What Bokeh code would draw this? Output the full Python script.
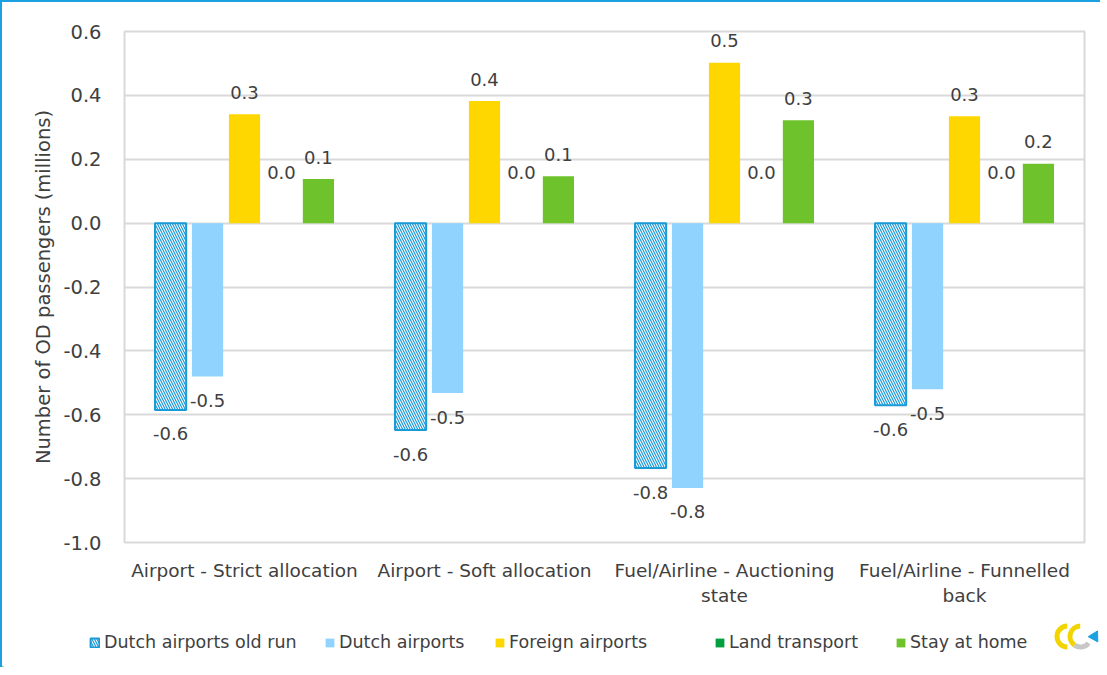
from bokeh.plotting import figure
from bokeh.layouts import column
from bokeh.models import (ColumnDataSource, LabelSet, Legend, LegendItem,
                          FixedTicker, Range1d)
from bokeh.core.properties import value
from bokeh.embed import file_html
from bokeh.resources import INLINE

# ---- data ----
categories = ["Airport - Strict allocation", "Airport - Soft allocation",
              "Fuel/Airline - Auctioning\nstate", "Fuel/Airline - Funnelled\nback"]
series = ["Dutch airports old run", "Dutch airports", "Foreign airports",
          "Land transport", "Stay at home"]
dutch_old = [-0.585, -0.648, -0.767, -0.570]
dutch = [-0.480, -0.532, -0.829, -0.520]
foreign = [0.341, 0.382, 0.502, 0.335]
land = [0.0, 0.0, 0.0, 0.0]
stay = [0.138, 0.147, 0.322, 0.186]
y_ticks = [-1.0, -0.8, -0.6, -0.4, -0.2, 0.0, 0.2, 0.4, 0.6]

values = [dutch_old, dutch, foreign, land, stay]
colors = ["#ffffff", "#8fd3fe", "#ffd700", "#00a03e", "#6ec22c"]
legend_x = [87, 322, 492, 712, 893]   # legend entry positions (px)

FONT = "DejaVu Sans"
TXT = "#404040"
W = 122 + 960 + 16

p = figure(frame_width=960, frame_height=511, output_backend="svg",
           toolbar_location=None,
           x_range=Range1d(0, 4), y_range=Range1d(-1.0, 0.6),
           min_border_left=122, min_border_right=16, min_border_top=29,
           min_border_bottom=75, background_fill_color="white",
           border_fill_color="white")
p.frame_align = False

p.outline_line_color = "#d9d9d9"
p.outline_line_width = 2
p.xgrid.grid_line_color = None
p.ygrid.grid_line_color = "#d9d9d9"
p.ygrid.grid_line_width = 2
p.yaxis.ticker = FixedTicker(ticks=y_ticks)
p.yaxis.major_label_overrides = {t: f"{t:.1f}" for t in y_ticks}
p.xaxis.ticker = FixedTicker(ticks=[0.5, 1.5, 2.5, 3.5])
p.xaxis.major_label_overrides = {0.5 + i: c for i, c in enumerate(categories)}
for ax in (p.xaxis, p.yaxis):
    ax.axis_line_color = None
    ax.major_tick_line_color = None
    ax.minor_tick_line_color = None
    ax.major_label_text_font = FONT
    ax.major_label_text_color = TXT
p.xaxis.major_label_text_font_size = "18.5px"
p.yaxis.major_label_text_font_size = "19.5px"
p.yaxis.major_label_standoff = 17
p.xaxis.major_label_standoff = 11
p.yaxis.axis_label = "Number of OD passengers (millions)"
p.yaxis.axis_label_text_font = FONT
p.yaxis.axis_label_text_font_size = "19.5px"
p.yaxis.axis_label_text_font_style = "normal"
p.yaxis.axis_label_text_color = TXT
p.yaxis.axis_label_standoff = 5

# legend strip (separate small figure, pixel data units)
p2 = figure(width=W, height=50, output_backend="svg", toolbar_location=None,
            x_range=Range1d(0, W), y_range=Range1d(0, 50),
            min_border_left=0, min_border_right=0, min_border_top=0,
            min_border_bottom=0, background_fill_color="white",
            border_fill_color="white")
p2.frame_align = False
p2.axis.visible = False
p2.grid.grid_line_color = None
p2.outline_line_color = None

offsets = [-0.308, -0.154, 0.0, 0.154, 0.308]
bar_w = 0.13
for s, (name, vals, col, off) in enumerate(zip(series, values, colors, offsets)):
    xs = [i + 0.5 + off for i in range(len(categories))]
    lab_off = [22 if v > 0 else (-24 if v < 0 else 51) for v in vals]
    src = ColumnDataSource(dict(x=xs, top=vals, lab=[f"{v:.1f}" for v in vals],
                                yo=lab_off))
    if s == 0:
        style = dict(fill_color="white", line_color="#1a9ad6", line_width=2,
                     hatch_pattern="\\", hatch_color="#1a9ad6", hatch_scale=5,
                     hatch_weight=1.2)
    else:
        style = dict(fill_color=col, line_color=None)
    p.vbar(x="x", top="top", bottom=0, width=bar_w, source=src, **style)
    # off-canvas proxy bar so the legend can show the swatch
    r2 = p2.vbar(x=[-500], top=[1], bottom=0, width=1, **style)
    leg = Legend(items=[LegendItem(label=name, renderers=[r2])],
                 orientation="horizontal", location=(legend_x[s], 15),
                 label_text_font=FONT, label_text_font_size="17.5px",
                 label_text_color=TXT, glyph_width=11, glyph_height=11,
                 label_standoff=4, border_line_color=None,
                 background_fill_alpha=0, margin=0, padding=0)
    p2.add_layout(leg, "center")
    p.add_layout(LabelSet(x="x", y="top", text="lab", y_offset="yo", source=src,
                          text_align="center", text_baseline="middle",
                          text_font=value(FONT), text_font_size="18px",
                          text_color=TXT))

# small logo approximation
p2.annular_wedge(x=[1065, 1078], y=[31, 31], inner_radius=8, outer_radius=13,
                 start_angle=[1.6, 1.6], end_angle=[4.7, 4.1],
                 color="#f2d500", line_color=None)
p2.annular_wedge(x=[1078], y=[31], inner_radius=8, outer_radius=13,
                 start_angle=[4.1], end_angle=[5.6], color="#c8c8c8",
                 line_color=None)
p2.scatter(x=[1092], y=[31], marker="triangle", size=11, color="#1ba1e2",
           angle=-0.5)

layout = column(p, p2, spacing=0)
layout.styles = {"border-top": "2px solid #1ba1e2",
                 "border-left": "2px solid #1ba1e2"}

open("out.html", "w").write(file_html(layout, INLINE))
